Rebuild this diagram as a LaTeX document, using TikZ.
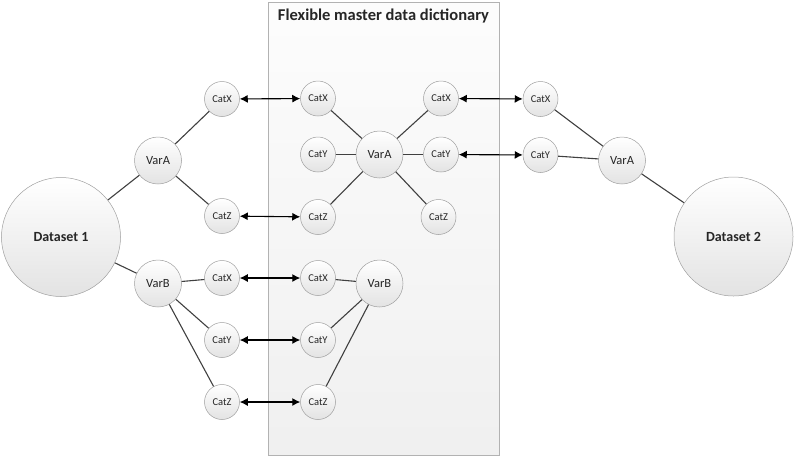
\documentclass[tikz,border=0pt]{standalone}
\usepackage{fontspec}
\setmainfont{Carlito}
\usetikzlibrary{arrows.meta}
\begin{document}
\begin{tikzpicture}[x=1pt,y=-1pt,
  ball/.style={circle,draw=gray!75,line width=0.5pt,top color=white,bottom color=gray!22,inner sep=0pt,text=black!85},
  cat/.style={ball,minimum size=35pt,font=\fontsize{10.5}{12}\selectfont},
  var/.style={ball,minimum size=47pt,font=\fontsize{12.5}{14}\selectfont},
  data/.style={ball,minimum size=119pt,font=\bfseries\fontsize{14}{16}\selectfont},
  link/.style={draw=black!75,line width=1.1pt},
  twoway/.style={draw=black,line width=1.1pt,{Latex[length=8pt,width=8pt]}-{Latex[length=8pt,width=8pt]}}]
\useasboundingbox (0,0) rectangle (797,459);
% master box
\path[draw=gray!60,line width=0.5pt,top color=gray!2,bottom color=gray!12] (268,2) rectangle (499,455);
\node[font=\bfseries\fontsize{16.5}{19}\selectfont,text=black!85] (title) at (383.5,16) {Flexible master data dictionary};
% left dataset
\node[data] (d1) at (61,237) {Dataset 1};
\node[var] (la) at (158,160.5) {VarA};
\node[cat] (lax) at (222,99) {CatX};
\node[cat] (laz) at (222,216) {CatZ};
\node[var] (lb) at (158,283.5) {VarB};
\node[cat] (lbx) at (222,278) {CatX};
\node[cat] (lby) at (222,340) {CatY};
\node[cat] (lbz) at (222,402) {CatZ};
% middle
\node[var] (ma) at (379.5,154.5) {VarA};
\node[cat] (max) at (318,98.5) {CatX};
\node[cat] (may) at (318,154.5) {CatY};
\node[cat] (maz) at (318,217) {CatZ};
\node[cat] (mrx) at (441,98.5) {CatX};
\node[cat] (mry) at (441,154.5) {CatY};
\node[cat] (mrz) at (438.5,217) {CatZ};
\node[var] (mb) at (379.5,283.5) {VarB};
\node[cat] (mbx) at (318,278) {CatX};
\node[cat] (mby) at (318,340) {CatY};
\node[cat] (mbz) at (318,402) {CatZ};
% right dataset
\node[data] (d2) at (733.5,236.5) {Dataset 2};
\node[var] (ra) at (622,160.5) {VarA};
\node[cat] (rx) at (540.5,99) {CatX};
\node[cat] (ry) at (540.5,155) {CatY};
% links
\path[link] (d1) -- (la);
\path[link] (d1) -- (lb);
\path[link] (la) -- (lax);
\path[link] (la) -- (laz);
\path[link] (lb) -- (lbx);
\path[link] (lb) -- (lby);
\path[link] (lb) -- (lbz);
\path[link] (ma) -- (max);
\path[link] (ma) -- (may);
\path[link] (ma) -- (maz);
\path[link] (ma) -- (mrx);
\path[link] (ma) -- (mry);
\path[link] (ma) -- (mrz);
\path[link] (mb) -- (mbx);
\path[link] (mb) -- (mby);
\path[link] (mb) -- (mbz);
\path[link] (ra) -- (rx);
\path[link] (ra) -- (ry);
\path[link] (ra) -- (d2);
% mappings
\path[twoway] (lax) -- (max);
\path[twoway] (laz) -- (maz);
\path[twoway] (lbx) -- (mbx);
\path[twoway] (lby) -- (mby);
\path[twoway] (lbz) -- (mbz);
\path[twoway] (mrx) -- (rx);
\path[twoway] (mry) -- (ry);
\end{tikzpicture}
\end{document}
